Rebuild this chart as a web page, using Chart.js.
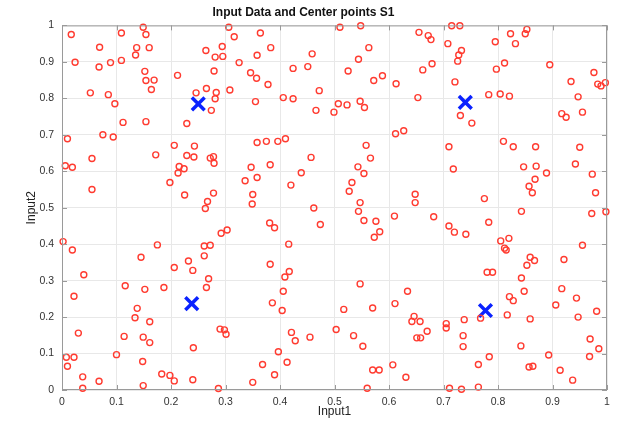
<!DOCTYPE html>
<html>
<head>
<meta charset="utf-8">
<script src="https://cdn.jsdelivr.net/npm/chart.js@4.4.1/dist/chart.umd.min.js"></script>
<style>
  html, body { margin: 0; padding: 0; background: #fff; }
  canvas { display: block; }
</style>
</head>
<body>
<canvas id="c" width="625" height="426"></canvas>
<script>
/* data: input points (x, y) */
const inputX = [
  0.017,0.109,0.149,0.154,0.069,0.137,0.160,0.135,0.024,0.068,0.089,0.109,0.152,0.154,0.169,0.212,0.164,0.052,0.085,0.097,
  0.246,0.112,0.154,0.229,0.010,0.075,0.094,0.206,0.243,0.306,0.316,0.364,0.383,0.294,0.264,0.281,0.295,0.358,0.325,0.459,
  0.279,0.346,0.357,0.424,0.451,0.378,0.265,0.283,0.308,0.281,0.274,0.355,0.406,0.424,0.472,0.466,0.499,0.507,0.358,0.375,
  0.396,0.410,0.510,0.548,0.715,0.730,0.655,0.672,0.677,0.708,0.563,0.733,0.728,0.726,0.544,0.525,0.679,0.662,0.572,0.588,
  0.613,0.721,0.523,0.547,0.555,0.653,0.731,0.752,0.612,0.627,0.558,0.710,0.853,0.850,0.823,0.832,0.795,0.812,0.797,0.895,
  0.976,0.934,0.983,0.989,0.997,0.783,0.804,0.821,0.947,0.917,0.925,0.955,0.810,0.828,0.869,0.950,0.006,0.019,0.055,0.055,
  0.172,0.229,0.242,0.215,0.224,0.213,0.198,0.225,0.002,0.019,0.175,0.145,0.232,0.206,0.040,0.240,0.272,0.278,0.279,0.457,
  0.347,0.382,0.439,0.336,0.358,0.420,0.278,0.350,0.349,0.267,0.263,0.462,0.474,0.381,0.390,0.303,0.292,0.261,0.272,0.261,
  0.416,0.382,0.417,0.566,0.543,0.554,0.532,0.527,0.547,0.544,0.554,0.576,0.583,0.573,0.610,0.648,0.648,0.682,0.718,0.710,
  0.720,0.741,0.847,0.870,0.942,0.889,0.973,0.868,0.857,0.863,0.979,0.775,0.843,0.972,0.998,0.783,0.805,0.820,0.812,0.815,
  0.955,0.859,0.867,0.853,0.921,0.780,0.790,0.116,0.152,0.187,0.022,0.138,0.134,0.161,0.030,0.114,0.149,0.161,0.241,0.008,
  0.022,0.010,0.100,0.148,0.038,0.068,0.183,0.198,0.206,0.038,0.149,0.240,0.409,0.269,0.265,0.406,0.386,0.404,0.290,0.298,
  0.301,0.421,0.428,0.455,0.503,0.397,0.368,0.413,0.390,0.350,0.287,0.547,0.634,0.611,0.517,0.570,0.535,0.552,0.646,0.642,
  0.657,0.670,0.651,0.658,0.705,0.705,0.738,0.736,0.736,0.570,0.582,0.607,0.631,0.560,0.711,0.733,0.764,0.764,0.843,0.848,
  0.821,0.828,0.917,0.944,0.906,0.981,0.947,0.817,0.859,0.768,0.842,0.969,0.985,0.968,0.893,0.784,0.857,0.864,0.914,0.937
];
const inputY = [
  0.975,0.979,0.995,0.975,0.940,0.939,0.939,0.919,0.899,0.886,0.898,0.904,0.874,0.849,0.850,0.863,0.824,0.815,0.810,0.785,
  0.815,0.734,0.736,0.731,0.689,0.700,0.694,0.671,0.669,0.995,0.969,0.979,0.939,0.942,0.931,0.913,0.915,0.918,0.898,0.922,
  0.875,0.870,0.855,0.882,0.887,0.838,0.827,0.816,0.823,0.799,0.767,0.791,0.802,0.799,0.821,0.767,0.762,0.785,0.679,0.682,
  0.682,0.689,0.995,0.999,0.999,0.999,0.981,0.972,0.961,0.950,0.939,0.931,0.919,0.902,0.907,0.875,0.895,0.878,0.849,0.862,
  0.840,0.845,0.782,0.792,0.775,0.802,0.753,0.732,0.703,0.711,0.671,0.667,0.989,0.977,0.977,0.950,0.955,0.897,0.880,0.892,
  0.871,0.846,0.839,0.834,0.843,0.810,0.812,0.806,0.804,0.758,0.748,0.762,0.682,0.667,0.667,0.666,0.615,0.611,0.635,0.550,
  0.645,0.643,0.639,0.613,0.607,0.595,0.569,0.535,0.407,0.384,0.398,0.364,0.354,0.336,0.316,0.328,0.636,0.640,0.622,0.638,
  0.611,0.618,0.596,0.574,0.583,0.562,0.540,0.536,0.510,0.517,0.498,0.499,0.454,0.458,0.445,0.439,0.430,0.395,0.397,0.368,
  0.400,0.345,0.325,0.636,0.612,0.594,0.569,0.545,0.514,0.490,0.465,0.463,0.434,0.419,0.477,0.537,0.514,0.475,0.606,0.450,
  0.433,0.427,0.612,0.614,0.620,0.595,0.592,0.578,0.559,0.541,0.541,0.525,0.490,0.484,0.489,0.460,0.409,0.416,0.389,0.384,
  0.397,0.364,0.355,0.342,0.358,0.323,0.323,0.286,0.276,0.281,0.257,0.224,0.198,0.187,0.156,0.147,0.145,0.130,0.116,0.090,
  0.090,0.065,0.097,0.078,0.036,0.024,0.044,0.040,0.025,0.005,0.012,0.028,0.310,0.305,0.281,0.271,0.239,0.218,0.167,0.165,
  0.153,0.158,0.135,0.145,0.166,0.105,0.070,0.076,0.042,0.021,0.004,0.291,0.271,0.237,0.221,0.225,0.149,0.120,0.202,0.188,
  0.188,0.161,0.143,0.143,0.182,0.170,0.193,0.149,0.119,0.055,0.055,0.069,0.035,0.005,0.005,0.002,0.070,0.008,0.307,0.271,
  0.256,0.245,0.278,0.252,0.233,0.216,0.200,0.206,0.195,0.197,0.121,0.140,0.113,0.092,0.096,0.091,0.063,0.065,0.054,0.027
];

/* data: cluster centers */
const centerX = [0.250, 0.740, 0.238, 0.777];
const centerY = [0.785, 0.789, 0.237, 0.218];

const xTicks = [0, 0.1, 0.2, 0.3, 0.4, 0.5, 0.6, 0.7, 0.8, 0.9, 1];
const yTicks = [0, 0.1, 0.2, 0.3, 0.4, 0.5, 0.6, 0.7, 0.8, 0.9, 1];

const toPts = (xs, ys) => xs.map((x, i) => ({x, y: ys[i]}));

/* box round the plot + inward ticks, matlab style */
const boxPlugin = {
  id: 'box',
  afterDraw(chart){
    const {ctx, chartArea: a, scales: {x, y}} = chart;
    ctx.save();
    ctx.strokeStyle = '#9a9a9a';
    ctx.lineWidth = 1;
    ctx.strokeRect(a.left + 0.5, a.top + 0.5, a.right - a.left - 1, a.bottom - a.top - 1);
    ctx.beginPath();
    xTicks.forEach(v => {
      const px = Math.round(x.getPixelForValue(v)) + 0.5;
      ctx.moveTo(px, a.bottom); ctx.lineTo(px, a.bottom - 5);
      ctx.moveTo(px, a.top); ctx.lineTo(px, a.top + 5);
    });
    yTicks.forEach(v => {
      const py = Math.round(y.getPixelForValue(v)) + 0.5;
      ctx.moveTo(a.left, py); ctx.lineTo(a.left + 5, py);
      ctx.moveTo(a.right, py); ctx.lineTo(a.right - 5, py);
    });
    ctx.stroke();
    ctx.restore();
  }
};

const font = 'Liberation Sans, Arial, sans-serif';

new Chart(document.getElementById('c'), {
  type: 'scatter',
  data: {
    datasets: [
      {
        label: 'Input',
        data: toPts(inputX, inputY),
        pointStyle: 'circle',
        pointRadius: 3,
        borderWidth: 1.4,
        borderColor: '#ff3b30',
        backgroundColor: 'rgba(0,0,0,0)',
        clip: false
      },
      {
        label: 'Centers',
        data: toPts(centerX, centerY),
        pointStyle: 'crossRot',
        pointRadius: 9,
        borderWidth: 3.5,
        borderColor: '#0a22ff',
        backgroundColor: '#0a22ff',
        clip: false
      }
    ]
  },
  options: {
    responsive: false,
    animation: false,
    devicePixelRatio: 1,
    layout: { padding: { left: 0, right: 18, top: 0, bottom: 0 } },
    plugins: {
      legend: { display: false },
      tooltip: { enabled: false },
      title: {
        display: true,
        text: 'Input Data and Center points S1',
        color: '#111',
        font: { family: font, size: 12, weight: 'bold' },
        padding: { top: 5, bottom: 6 }
      }
    },
    scales: {
      x: {
        type: 'linear', min: 0, max: 1,
        afterBuildTicks: s => { s.ticks = xTicks.map(v => ({value: v})); },
        afterFit: s => { s.height = 36; },
        grid: { color: '#e8e8e8', drawTicks: false },
        border: { display: false },
        ticks: { color: '#333', padding: 6, autoSkip: false, font: { family: font, size: 10.5 }, maxRotation: 0, callback: v => String(v) },
        title: { display: true, text: 'Input1', color: '#222', font: { family: font, size: 12 }, padding: { top: 0, bottom: 7 } }
      },
      y: {
        type: 'linear', min: 0, max: 1,
        afterBuildTicks: s => { s.ticks = yTicks.map(v => ({value: v})); },
        afterFit: s => { s.width = 62; },
        grid: { color: '#e8e8e8', drawTicks: false },
        border: { display: false },
        ticks: { color: '#333', padding: 8, autoSkip: false, font: { family: font, size: 10.5 }, callback: v => String(v) },
        title: { display: true, text: 'Input2', color: '#222', font: { family: font, size: 12 }, padding: { top: 24, bottom: 0 } }
      }
    }
  },
  plugins: [boxPlugin]
});
</script>
</body>
</html>
